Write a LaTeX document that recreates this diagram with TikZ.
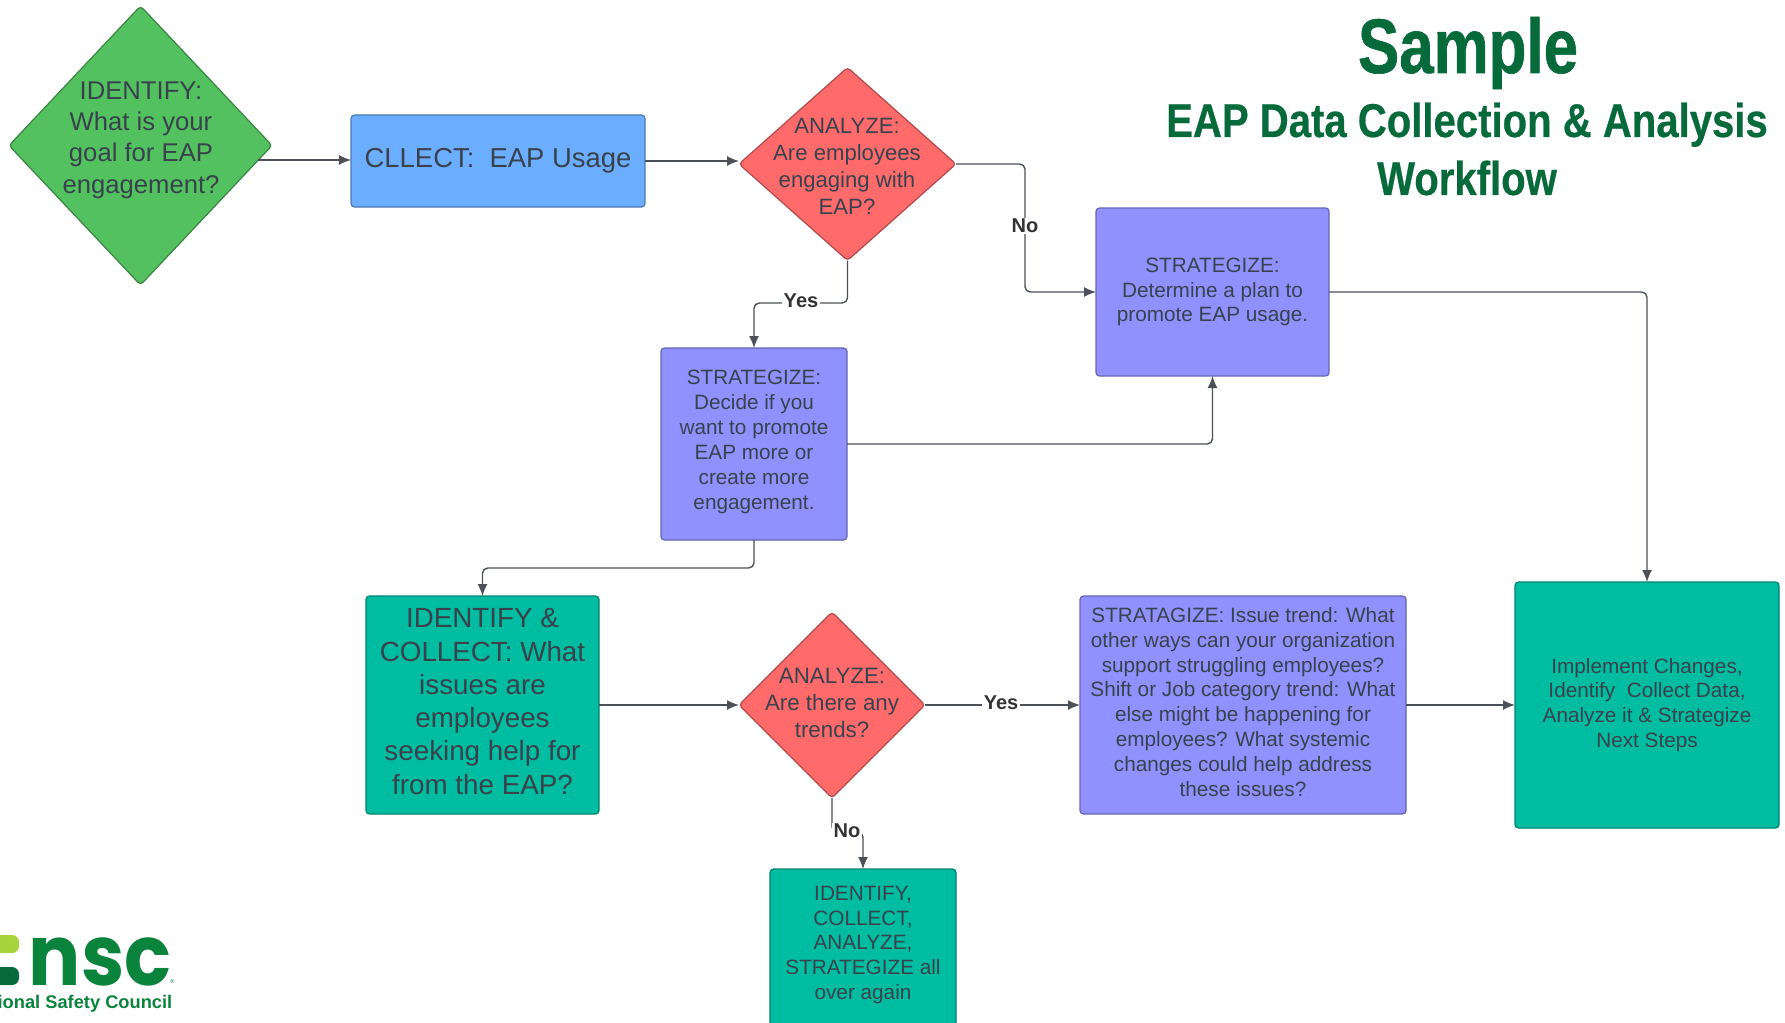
\documentclass[tikz,border=0pt]{standalone}
\usepackage{fontspec}
\usetikzlibrary{shapes.geometric,arrows.meta}
\setmainfont{Liberation Sans}
\newfontfamily\titlefont[FakeStretch=0.845,FakeBold=0.5]{Liberation Sans}
\newfontfamily\samplefont[FakeStretch=0.80,FakeBold=0.8]{Liberation Sans}
\newfontfamily\logofont[FakeStretch=0.92]{Poppins}
\definecolor{goalgreen}{HTML}{53C15F}
\definecolor{collectblue}{HTML}{6BAEFF}
\definecolor{analyzered}{HTML}{FF6B6B}
\definecolor{strategyviolet}{HTML}{9090FF}
\definecolor{actionteal}{HTML}{00BCA1}
\definecolor{flowgray}{HTML}{4C5058}
\definecolor{inkgray}{HTML}{39424C}
\definecolor{titlegreen}{HTML}{066A3A}
\definecolor{logogreen}{HTML}{0A843D}
\definecolor{logolime}{HTML}{A6D23A}
\tikzset{
  box/.style={draw=#1!70!black, fill=#1, rectangle, rounded corners=1pt, line width=0.35pt, inner sep=0pt, outer sep=0pt, align=center, text=inkgray},
  gem/.style={draw=#1!70!black, fill=#1, diamond, aspect=1, rounded corners=1pt, line width=0.35pt, inner sep=0pt, outer sep=0pt},
  words/.style={align=center, text=inkgray, inner sep=0pt},
  flow/.style={draw=flowgray, line width=0.4pt, rounded corners=1.5pt, -{Latex[length=1.2mm,width=1mm]}},
  answer/.style={fill=white, inner sep=0.4pt, text=black!80, font=\fontsize{5.7}{6.8}\selectfont\bfseries},
  small/.style={font=\fontsize{5.9}{7.08}\selectfont},
  heading/.style={anchor=base, text=titlegreen, inner sep=0pt},
}
\begin{document}
\begin{tikzpicture}
\useasboundingbox (0,0) rectangle (17.85,-10.22);

% title
\node (title-a) at (14.68,-0.73) [heading, font=\samplefont\fontsize{22}{26}\selectfont\bfseries]{Sample};
\node (title-b) at (14.67,-1.37) [heading, font=\titlefont\fontsize{13.5}{16}\selectfont\bfseries]{EAP Data Collection \& Analysis};
\node (title-c) at (14.67,-1.95) [heading, font=\titlefont\fontsize{13.5}{16}\selectfont\bfseries]{Workflow};

% top row
\node (goal) at (1.405,-1.455) [gem=goalgreen, minimum width=2.63cm, minimum height=2.79cm]{};
\node (goal-text) at (1.41,-1.40) [words, font=\fontsize{7.3}{8.9}\selectfont]{IDENTIFY:\\What is your\\goal for EAP\\engagement?};
\node (collect) at (4.98,-1.61) [box=collectblue, minimum width=2.94cm, minimum height=0.92cm, font=\fontsize{7.8}{9}\selectfont]{CLLECT:\ \ EAP Usage};
\node (engage) at (8.475,-1.64) [gem=analyzered, minimum width=2.17cm, minimum height=1.93cm]{};
\node (engage-text) at (8.47,-1.66) [words, font=\fontsize{6.3}{7.68}\selectfont]{ANALYZE:\\Are employees\\engaging with\\EAP?};

% violet boxes
\node (plan) at (12.125,-2.92) [box=strategyviolet, minimum width=2.33cm, minimum height=1.68cm, small]{STRATEGIZE:\\Determine a plan to\\promote EAP usage.};
\node (decide) at (7.54,-4.44) [box=strategyviolet, minimum width=1.86cm, minimum height=1.92cm]{};
\node (decide-text) at (7.54,-4.42) [words, small]{STRATEGIZE:\\Decide if you\\want to promote\\EAP more or\\create more\\engagement.};

% lower row
\node (issues) at (4.825,-7.05) [box=actionteal, minimum width=2.33cm, minimum height=2.18cm]{};
\node (issues-text) at (4.825,-7.015) [words, font=\fontsize{7.9}{9.45}\selectfont]{IDENTIFY \&\\COLLECT: What\\issues are\\employees\\seeking help for\\from the EAP?};
\node (trends) at (8.32,-7.05) [gem=analyzered, minimum width=1.86cm, minimum height=1.86cm]{};
\node (trends-text) at (8.32,-7.03) [words, font=\fontsize{6.35}{7.75}\selectfont]{ANALYZE:\\Are there any\\trends?};
\node (support) at (12.43,-7.05) [box=strategyviolet, minimum width=3.26cm, minimum height=2.18cm]{};
\node (support-text) at (12.43,-7.02) [words, small]{STRATAGIZE: Issue trend: What\\other ways can your organization\\support struggling employees?\\Shift or Job category trend: What\\else might be happening for\\employees? What systemic\\changes could help address\\these issues?};
\node (implement) at (16.47,-7.05) [box=actionteal, minimum width=2.64cm, minimum height=2.46cm, small]{Implement Changes,\\Identify\ \ Collect Data,\\Analyze it \& Strategize\\Next Steps};
\node (again) at (8.63,-9.55) [box=actionteal, minimum width=1.86cm, minimum height=1.72cm]{};
\node (again-text) at (8.63,-9.45) [words, small]{IDENTIFY,\\COLLECT,\\ANALYZE,\\STRATEGIZE all\\over again};

% bends
\coordinate (no-bend) at (10.25,-2.25);
\coordinate (yes-bend) at (8.0,-3.03);
\coordinate (down-bend) at (6.0,-5.68);
\coordinate (last-bend) at (8.47,-8.32);

\draw [flow] (goal.-7.4) -- (goal.-7.4 -| collect.west);
\draw [flow] (collect.east) -- (collect.east -| engage.west);
\draw [flow] (engage.east) -| (no-bend) |- (plan.west);
\draw [flow] (engage.south) |- (yes-bend) -| (decide.north);
\draw [flow] (decide.east) -| (plan.south);
\draw [flow] (plan.east) -| (implement.north);
\draw [flow] (decide.south) |- (down-bend) -| (issues.north);
\draw [flow] (issues.east) -- (trends.west);
\draw [flow] (trends.east) -- (support.west);
\draw [flow] (support.east) -- (implement.west);
\draw [flow] (trends.south) |- (last-bend) -| (again.north);

\node (no-a) at (10.25,-2.26) [answer]{No};
\node (yes-a) at (8.01,-3.01) [answer]{Yes};
\node (yes-b) at (10.01,-7.03) [answer]{Yes};
\node (no-b) at (8.47,-8.31) [answer]{No};

% logo
\fill [logolime, rounded corners=2pt] (-0.1,-9.35) -- (0.19,-9.35) -- (0.19,-9.53) -- (-0.1,-9.53) -- cycle;
\fill [titlegreen, rounded corners=2pt] (-0.1,-9.67) -- (0.19,-9.67) -- (0.19,-9.85) -- (-0.1,-9.85) -- cycle;
\node (logo-a) at (1.72,-9.85) [anchor=base east, inner sep=0pt, text=logogreen, font=\logofont\fontsize{24}{28}\selectfont\bfseries]{nsc};
\node (logo-b) at (1.725,-9.82) [inner sep=0pt, text=logogreen, font=\fontsize{1.6}{2}\selectfont]{\textregistered};
\node (logo-c) at (1.73,-10.08) [anchor=base east, inner sep=0pt, text=logogreen, font=\fontsize{5.2}{6}\selectfont\bfseries]{ional Safety Council};
\end{tikzpicture}
\end{document}
